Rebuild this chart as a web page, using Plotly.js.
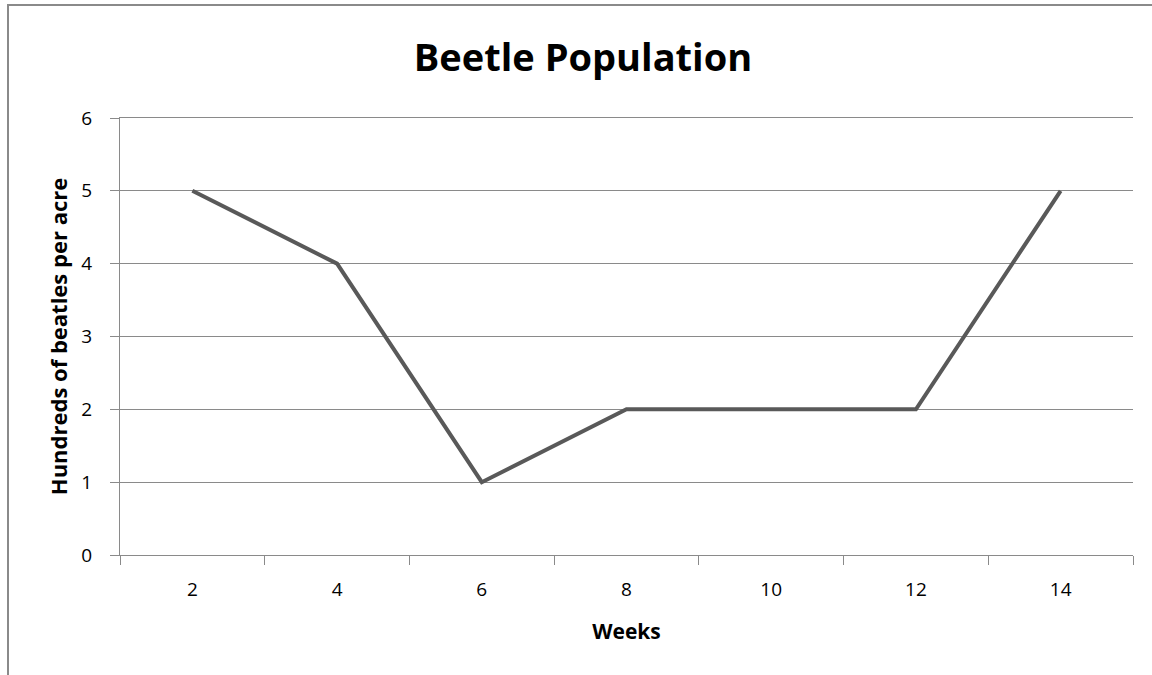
<!DOCTYPE html>
<html>
<head>
<meta charset="utf-8">
<script src="https://cdn.plot.ly/plotly-3.0.1.min.js"></script>
<style>
html,body{margin:0;padding:0;background:#fff;}
#frame{position:absolute;left:7px;top:4px;width:1145px;height:671px;border-left:2px solid #8a8a8a;border-top:2px solid #8a8a8a;box-sizing:border-box;pointer-events:none;}
#chart{position:absolute;left:0;top:0;width:1152px;height:675px;}
</style>
</head>
<body>
<div id="chart"></div>
<div id="frame"></div>
<script>
const weeks = ["2", "4", "6", "8", "10", "12", "14"];
const population = [5, 4, 1, 2, 2, 2, 5];
const yTicks = [0, 1, 2, 3, 4, 5, 6];

const FONT = '"Open Sans", Lato, sans-serif';

const trace = {
  x: weeks,
  y: population,
  type: 'scatter',
  mode: 'lines',
  line: {color: '#595959', width: 4},
  hoverinfo: 'x+y'
};

const layout = {
  width: 1152,
  height: 675,
  margin: {l: 120, r: 19, t: 118, b: 120},
  paper_bgcolor: 'rgba(0,0,0,0)',
  plot_bgcolor: '#fff',
  showlegend: false,
  font: {family: FONT, color: '#000'},
  title: {
    text: 'Beetle Population',
    font: {family: FONT, size: 38, color: '#000', weight: 'bold'},
    x: 583/1152, xanchor: 'center', xref: 'container',
    y: 1 - 58/675, yanchor: 'middle'
  },
  xaxis: {
    type: 'category',
    range: [-0.5, 6.5],
    tickson: 'boundaries',
    ticks: 'outside',
    ticklen: 9,
    tickcolor: '#8a8a8a',
    tickwidth: 1,
    ticklabelstandoff: 17,
    showline: true,
    mirror: true,
    linecolor: '#8a8a8a',
    linewidth: 1,
    showgrid: false,
    zeroline: false,
    tickfont: {family: FONT, size: 19, color: '#000'},
    title: {text: 'Weeks', font: {family: FONT, size: 21, weight: 'bold', color: '#000'}, standoff: 23}
  },
  yaxis: {
    range: [0, 6],
    tickvals: yTicks,
    ticktext: yTicks.map(String),
    ticks: 'outside',
    ticklen: 9,
    tickcolor: '#8a8a8a',
    tickwidth: 1,
    ticklabelstandoff: 14,
    showline: true,
    linecolor: '#8a8a8a',
    linewidth: 1,
    showgrid: true,
    gridcolor: '#8a8a8a',
    gridwidth: 1,
    zeroline: false,
    tickfont: {family: FONT, size: 19, color: '#000'},
    title: {text: 'Hundreds of beatles per acre', font: {family: FONT, size: 22, weight: 'bold', color: '#000'}, standoff: 7}
  }
};

Plotly.newPlot('chart', [trace], layout, {displayModeBar: false, staticPlot: true});
</script>
</body>
</html>
